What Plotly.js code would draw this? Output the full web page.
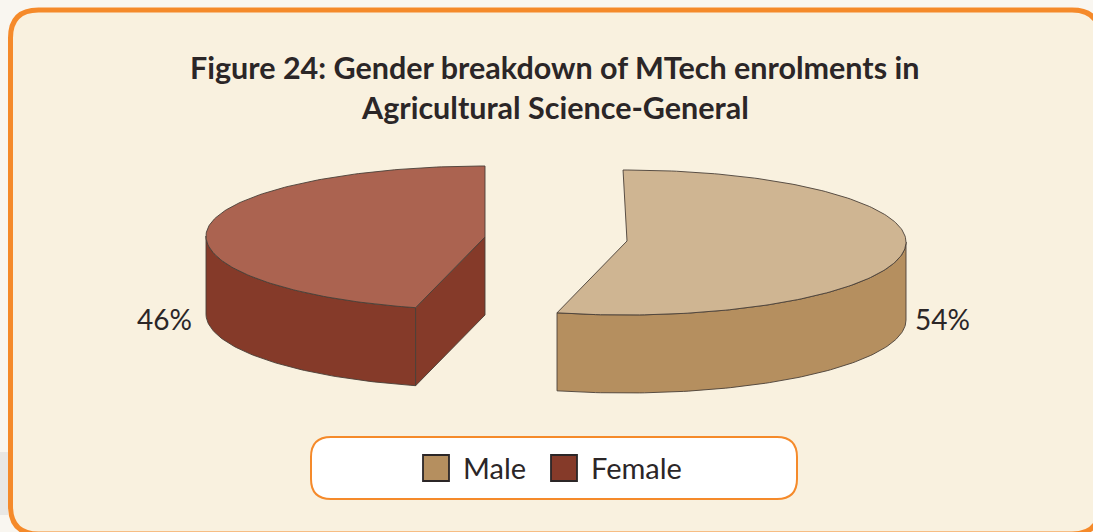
<!DOCTYPE html>
<html>
<head>
<meta charset="utf-8">
<script src="https://cdn.plot.ly/plotly-3.0.1.min.js"></script>
<style>html,body{margin:0;padding:0;background:#f9f6f0;overflow:hidden}</style>
</head>
<body>
<div id="chart" style="width:1093px;height:532px"></div>
<script>
// Data
const categories = ["Male", "Female"];
const shares = [54, 46];
const titleLines = ["Figure 24: Gender breakdown of MTech enrolments in", "Agricultural Science-General"];

// Style
const topColors = ["#cfb592", "#ab6350"];
const sideColors = ["#b58f5f", "#853a29"];
const edge = {color: "#4a4038", width: 0.9};
const ink = "#2b2627";
const fontFace = "Lato, 'Open Sans', sans-serif";

// Pseudo-3D pie projection
const radiusX = [281, 279], radiusYBack = [72, 70], radiusYFront = [73, 74], depth = 78;
const centers = [[625, 242], [485, 236]];
const apexes = [[627, 241], [485, 237]];
const startAngles = [-0.4, 360];
const directions = [1, -1];
const visibleWallFrom = [90, 270];
const labelPos = [[942.5, 319], [164.5, 319]];
const keyPos = [[436, 468], [564, 468]];
const titleY = [67, 107];

function pt(i, deg, drop) {
  const r = deg * Math.PI / 180, cs = Math.cos(r), c = centers[i];
  return [c[0] + radiusX[i] * Math.sin(r), c[1] - (cs > 0 ? radiusYBack[i] : radiusYFront[i]) * cs + drop];
}
function arc(i, a0, a1, drop) {
  const n = Math.max(2, Math.ceil(Math.abs(a1 - a0)));
  const out = [];
  for (let k = 0; k <= n; k++) out.push(pt(i, a0 + (a1 - a0) * k / n, drop));
  return out;
}
function poly(points, fill) {
  const closed = points.concat([points[0]]);
  return {
    type: "scatter", mode: "lines", fill: "toself", fillcolor: fill,
    x: closed.map(p => p[0]), y: closed.map(p => p[1]),
    line: {color: edge.color, width: edge.width, shape: "linear"},
    hoverinfo: "skip", showlegend: false
  };
}

const traces = [];
const total = shares.reduce((a, b) => a + b, 0);
categories.forEach((name, i) => {
  const a0 = startAngles[i];
  const a1 = a0 + directions[i] * shares[i] / total * 360;
  const ap = apexes[i];
  traces.push(poly(arc(i, visibleWallFrom[i], a1, 0).concat(arc(i, a1, visibleWallFrom[i], depth)), sideColors[i]));
  if (directions[i] < 0) {
    const e = pt(i, a1, 0);
    traces.push(poly([ap, e, [e[0], e[1] + depth], [ap[0], ap[1] + depth]], sideColors[i]));
  }
  traces.push(poly([ap].concat(arc(i, a0, a1, 0)), topColors[i]));
});
traces.push({
  type: "scatter", mode: "markers",
  x: keyPos.map(p => p[0]), y: keyPos.map(p => p[1]),
  marker: {symbol: "square", size: 26, color: sideColors, line: {color: ink, width: 1.8}},
  hoverinfo: "skip", showlegend: false
});

const annotations = [];
categories.forEach((name, i) => {
  annotations.push({
    x: labelPos[i][0], y: labelPos[i][1], xref: "x", yref: "y",
    text: shares[i] + "%", showarrow: false, xanchor: "center", yanchor: "middle",
    font: {family: fontFace, size: 28, color: ink}
  });
  annotations.push({
    x: keyPos[i][0] + 25, y: keyPos[i][1] - 1, xref: "x", yref: "y",
    text: name, showarrow: false, xanchor: "left", yanchor: "middle",
    font: {family: fontFace, size: 29, color: ink}
  });
});
titleLines.forEach((line, i) => {
  annotations.push({
    x: 554.5, y: titleY[i], xref: "x", yref: "y",
    text: "<b>" + line + "</b>", showarrow: false, xanchor: "center", yanchor: "middle",
    font: {family: fontFace, size: 30.5, color: ink}
  });
});

function roundRect(x0, y0, x1, y1, r) {
  return `M${x0 + r},${y0} L${x1 - r},${y0} Q${x1},${y0} ${x1},${y0 + r} L${x1},${y1 - r} Q${x1},${y1} ${x1 - r},${y1} L${x0 + r},${y1} Q${x0},${y1} ${x0},${y1 - r} L${x0},${y0 + r} Q${x0},${y0} ${x0 + r},${y0} Z`;
}

const layout = {
  width: 1093, height: 532,
  margin: {l: 0, r: 0, t: 0, b: 0},
  paper_bgcolor: "#f9f6f0", plot_bgcolor: "rgba(0,0,0,0)",
  showlegend: false,
  xaxis: {range: [0, 1093], visible: false, fixedrange: true},
  yaxis: {range: [532, 0], visible: false, fixedrange: true},
  annotations: annotations,
  shapes: [
    {type: "rect", layer: "below", xref: "x", yref: "y", x0: 0, x1: 8, y0: 452, y1: 515, fillcolor: "#e9e7e4", line: {width: 0}},
    {type: "path", layer: "below", xref: "x", yref: "y", path: roundRect(10.5, 10, 1100, 534, 28), fillcolor: "#f9f1df", line: {color: "#f58a2a", width: 5}},
    {type: "path", layer: "below", xref: "x", yref: "y", path: roundRect(311, 437, 797, 499, 20), fillcolor: "#ffffff", line: {color: "#f58a2a", width: 2}}
  ]
};

Plotly.newPlot("chart", traces, layout, {displayModeBar: false, staticPlot: true});
</script>
</body>
</html>
